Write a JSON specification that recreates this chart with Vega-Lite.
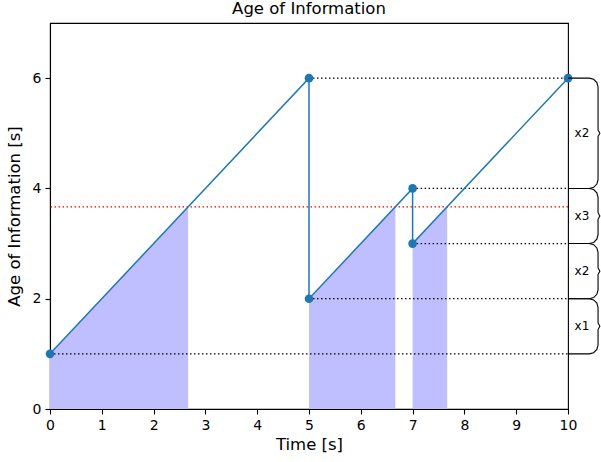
{
  "$schema": "https://vega.github.io/schema/vega-lite/v6.json",
  "width": 518,
  "height": 386,
  "autosize": "none",
  "padding": {"left": 50, "top": 23, "right": 33, "bottom": 53},
  "background": "white",
  "config": {
    "font": "DejaVu Sans",
    "view": {"stroke": "black", "strokeWidth": 1.1},
    "axis": {"grid": false, "domainColor": "black", "domainWidth": 1.1, "tickColor": "black", "tickWidth": 1.1, "tickSize": 5, "labelFont": "DejaVu Sans", "labelFontSize": 14, "labelColor": "black", "labelFlush": false, "labelOverlap": false, "titleFont": "DejaVu Sans", "titleFontSize": 16.5, "titleFontWeight": "normal", "titleColor": "black"}
  },
  "title": {"text": "Age of Information", "font": "DejaVu Sans", "fontSize": 16.5, "fontWeight": "normal", "color": "black", "offset": 6},
  "datasets": {
    "fill": [
      {"seg": 1, "t": 0, "aoi": 1},
      {"seg": 1, "t": 2.667, "aoi": 3.667},
      {"seg": 2, "t": 5, "aoi": 2},
      {"seg": 2, "t": 6.667, "aoi": 3.667},
      {"seg": 3, "t": 7, "aoi": 3},
      {"seg": 3, "t": 7.667, "aoi": 3.667}
    ],
    "aoi": [
      {"i": 0, "t": 0, "aoi": 1},
      {"i": 1, "t": 5, "aoi": 6},
      {"i": 2, "t": 5, "aoi": 2},
      {"i": 3, "t": 7, "aoi": 4},
      {"i": 4, "t": 7, "aoi": 3},
      {"i": 5, "t": 10, "aoi": 6}
    ],
    "guides": [
      {"t0": 0, "t1": 10, "aoi": 1},
      {"t0": 5, "t1": 10, "aoi": 2},
      {"t0": 7, "t1": 10, "aoi": 3},
      {"t0": 7, "t1": 10, "aoi": 4},
      {"t0": 5, "t1": 10, "aoi": 6}
    ],
    "braces": [
      {"b": "A", "k": 0, "x": 10, "y": 6},
      {"b": "A", "k": 1, "x": 10.41, "y": 6},
      {"b": "A", "k": 2, "x": 10.495, "y": 5.979},
      {"b": "A", "k": 3, "x": 10.557, "y": 5.92},
      {"b": "A", "k": 4, "x": 10.58, "y": 5.84},
      {"b": "A", "k": 5, "x": 10.58, "y": 5.06},
      {"b": "A", "k": 6, "x": 10.615, "y": 5},
      {"b": "A", "k": 7, "x": 10.58, "y": 4.94},
      {"b": "A", "k": 8, "x": 10.58, "y": 4.16},
      {"b": "A", "k": 9, "x": 10.557, "y": 4.08},
      {"b": "A", "k": 10, "x": 10.495, "y": 4.021},
      {"b": "A", "k": 11, "x": 10.41, "y": 4},
      {"b": "A", "k": 12, "x": 10, "y": 4},
      {"b": "B", "k": 0, "x": 10, "y": 4},
      {"b": "B", "k": 1, "x": 10.41, "y": 4},
      {"b": "B", "k": 2, "x": 10.495, "y": 3.979},
      {"b": "B", "k": 3, "x": 10.557, "y": 3.92},
      {"b": "B", "k": 4, "x": 10.58, "y": 3.84},
      {"b": "B", "k": 5, "x": 10.58, "y": 3.56},
      {"b": "B", "k": 6, "x": 10.615, "y": 3.5},
      {"b": "B", "k": 7, "x": 10.58, "y": 3.44},
      {"b": "B", "k": 8, "x": 10.58, "y": 3.16},
      {"b": "B", "k": 9, "x": 10.557, "y": 3.08},
      {"b": "B", "k": 10, "x": 10.495, "y": 3.021},
      {"b": "B", "k": 11, "x": 10.41, "y": 3},
      {"b": "B", "k": 12, "x": 10, "y": 3},
      {"b": "C", "k": 0, "x": 10, "y": 3},
      {"b": "C", "k": 1, "x": 10.41, "y": 3},
      {"b": "C", "k": 2, "x": 10.495, "y": 2.979},
      {"b": "C", "k": 3, "x": 10.557, "y": 2.92},
      {"b": "C", "k": 4, "x": 10.58, "y": 2.84},
      {"b": "C", "k": 5, "x": 10.58, "y": 2.56},
      {"b": "C", "k": 6, "x": 10.615, "y": 2.5},
      {"b": "C", "k": 7, "x": 10.58, "y": 2.44},
      {"b": "C", "k": 8, "x": 10.58, "y": 2.16},
      {"b": "C", "k": 9, "x": 10.557, "y": 2.08},
      {"b": "C", "k": 10, "x": 10.495, "y": 2.021},
      {"b": "C", "k": 11, "x": 10.41, "y": 2},
      {"b": "C", "k": 12, "x": 10, "y": 2},
      {"b": "D", "k": 0, "x": 10, "y": 2},
      {"b": "D", "k": 1, "x": 10.41, "y": 2},
      {"b": "D", "k": 2, "x": 10.495, "y": 1.979},
      {"b": "D", "k": 3, "x": 10.557, "y": 1.92},
      {"b": "D", "k": 4, "x": 10.58, "y": 1.84},
      {"b": "D", "k": 5, "x": 10.58, "y": 1.56},
      {"b": "D", "k": 6, "x": 10.615, "y": 1.5},
      {"b": "D", "k": 7, "x": 10.58, "y": 1.44},
      {"b": "D", "k": 8, "x": 10.58, "y": 1.16},
      {"b": "D", "k": 9, "x": 10.557, "y": 1.08},
      {"b": "D", "k": 10, "x": 10.495, "y": 1.021},
      {"b": "D", "k": 11, "x": 10.41, "y": 1},
      {"b": "D", "k": 12, "x": 10, "y": 1}
    ],
    "labels": [
      {"x": 10.27, "y": 5, "label": "x2"},
      {"x": 10.27, "y": 3.5, "label": "x3"},
      {"x": 10.27, "y": 2.5, "label": "x2"},
      {"x": 10.27, "y": 1.5, "label": "x1"}
    ]
  },
  "layer": [
    {
      "data": {"name": "fill"},
      "mark": {"type": "area", "color": "#bfbfff", "opacity": 1},
      "encoding": {
        "x": {"field": "t", "type": "quantitative", "scale": {"domain": [0, 10], "nice": false, "zero": false}, "axis": {"values": [0,1,2,3,4,5,6,7,8,9,10], "format": "d", "title": "Time [s]", "labelPadding": 4, "titlePadding": 4}},
        "y": {"field": "aoi", "type": "quantitative", "scale": {"domain": [0, 7], "nice": false}, "axis": {"values": [0,2,4,6], "format": "d", "title": "Age of Information [s]", "labelPadding": 4, "titlePadding": 10}},
        "y2": {"datum": 0},
        "detail": {"field": "seg"}
      }
    },
    {
      "data": {"values": [{"aoi": 3.667}]},
      "mark": {"type": "rule", "color": "red", "strokeWidth": 1.3, "strokeDash": [1.5, 2.5]},
      "encoding": {"y": {"field": "aoi", "type": "quantitative"}}
    },
    {
      "data": {"name": "guides"},
      "mark": {"type": "rule", "color": "black", "strokeWidth": 1.3, "strokeDash": [1.5, 2.5]},
      "encoding": {
        "x": {"field": "t0", "type": "quantitative"},
        "x2": {"field": "t1"},
        "y": {"field": "aoi", "type": "quantitative"}
      }
    },
    {
      "data": {"name": "aoi"},
      "mark": {"type": "line", "color": "#1f77b4", "strokeWidth": 1.5},
      "encoding": {
        "x": {"field": "t", "type": "quantitative"},
        "y": {"field": "aoi", "type": "quantitative"},
        "order": {"field": "i"}
      }
    },
    {
      "data": {"name": "aoi"},
      "mark": {"type": "point", "filled": true, "color": "#1f77b4", "opacity": 1, "size": 75},
      "encoding": {
        "x": {"field": "t", "type": "quantitative"},
        "y": {"field": "aoi", "type": "quantitative"}
      }
    },
    {
      "data": {"name": "braces"},
      "mark": {"type": "line", "color": "black", "strokeWidth": 1.1, "clip": false},
      "encoding": {
        "x": {"field": "x", "type": "quantitative"},
        "y": {"field": "y", "type": "quantitative"},
        "detail": {"field": "b"},
        "order": {"field": "k"}
      }
    },
    {
      "data": {"name": "labels"},
      "mark": {"type": "text", "font": "DejaVu Sans", "fontSize": 12, "color": "black", "align": "center", "baseline": "middle"},
      "encoding": {
        "x": {"field": "x", "type": "quantitative"},
        "y": {"field": "y", "type": "quantitative"},
        "text": {"field": "label"}
      }
    }
  ]
}
